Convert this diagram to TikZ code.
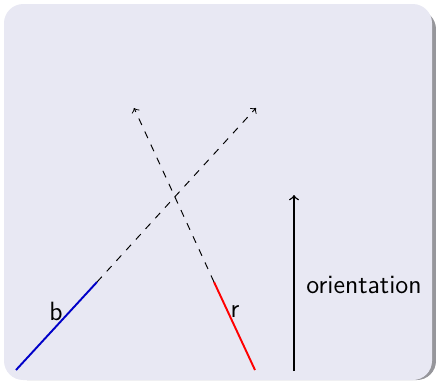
\documentclass[tikz,border=0pt]{standalone}
\usetikzlibrary{arrows}
\definecolor{bgfill}{RGB}{232,232,243}
\definecolor{shadowc}{RGB}{150,150,155}
\definecolor{bblue}{RGB}{0,0,200}
\begin{document}
\begin{tikzpicture}[x=0.4167pt,y=-0.4167pt,
  solidpart/.style={thick},
  dashpart/.style={dashed,->},
  lbl/.style={font=\fontsize{11}{13}\selectfont\sffamily,inner sep=0pt}]
\useasboundingbox (0,0) rectangle (436,382);
\fill[shadowc,rounded corners=8] (8,10) rectangle (436,380);
\fill[bgfill,rounded corners=8] (4,4) rectangle (432,380);
% blue line
\coordinate (b0) at (16,370);
\coordinate (b1) at (97,282);
\coordinate (b2) at (256,108);
\draw[solidpart,bblue] (b0) -- (b1);
\draw[dashpart] (b1) -- (b2);
% red line
\coordinate (r0) at (255,370);
\coordinate (r1) at (214,282);
\coordinate (r2) at (134,108);
\draw[solidpart,red] (r0) -- (r1);
\draw[dashpart] (r1) -- (r2);
% orientation
\coordinate (o0) at (294,371);
\coordinate (o1) at (294,195);
\draw[->,semithick] (o0) -- (o1);
\node[lbl] (orient) at (364,285) {orientation};
\node[lbl] (lb) at (56,311) {b};
\node[lbl] (lr) at (235,311) {r};
\end{tikzpicture}
\end{document}
